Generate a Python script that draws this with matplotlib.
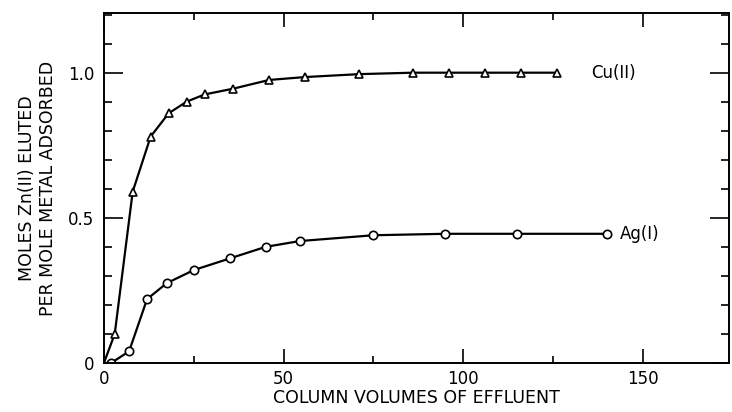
import matplotlib
matplotlib.use("Agg")
import matplotlib.pyplot as plt
from matplotlib.ticker import MultipleLocator

# Cu(II) curve (first point is the origin, drawn without a marker)
cu_x = [0, 3, 8, 13, 18, 23, 28, 36, 46, 56, 71, 86, 96, 106, 116, 126]
cu_y = [0, 0.10, 0.59, 0.78, 0.86, 0.90, 0.925, 0.945, 0.975, 0.985, 0.995,
        1.0, 1.0, 1.0, 1.0, 1.0]

# Ag(I) curve
ag_x = [0, 2, 7, 12, 17.5, 25, 35, 45, 54.5, 75, 95, 115, 140]
ag_y = [0, 0, 0.04, 0.22, 0.275, 0.32, 0.36, 0.40, 0.42, 0.44, 0.445,
        0.445, 0.445]

x_ticks = [0, 50, 100, 150]
y_ticks = [0, 0.5, 1.0]
y_tick_labels = ["0", "0.5", "1.0"]

plt.rcParams['font.family'] = ['DejaVu Sans']
plt.rcParams['font.size'] = 12

fig = plt.figure(figsize=(7.32, 4.12), dpi=100)
ax = fig.add_axes([0.142, 0.119, 0.854, 0.849])

ax.plot(cu_x, cu_y, color='black', linewidth=1.6, marker='^', markersize=6,
        markerfacecolor='white', markeredgecolor='black', markeredgewidth=1.2,
        markevery=list(range(1, len(cu_x))))
ax.plot(ag_x, ag_y, color='black', linewidth=1.6, marker='o', markersize=6,
        markerfacecolor='white', markeredgecolor='black', markeredgewidth=1.2,
        markevery=list(range(1, len(ag_x))))

ax.text(135.5, 1.0, "Cu(II)", ha='left', va='center', fontsize=12)
ax.text(143.5, 0.445, "Ag(I)", ha='left', va='center', fontsize=12)

ax.set_xlim(0, 174)
ax.set_ylim(0, 1.205)
ax.set_xticks(x_ticks)
ax.set_yticks(y_ticks)
ax.set_yticklabels(y_tick_labels)
ax.xaxis.set_minor_locator(MultipleLocator(25))
ax.yaxis.set_minor_locator(MultipleLocator(0.1))

ax.tick_params(which='both', direction='in', top=True, right=True,
               width=1.2, labelsize=12)
ax.tick_params(axis='y', which='major', length=14, pad=7)
ax.tick_params(axis='y', which='minor', length=6)
ax.tick_params(axis='x', which='major', length=10, pad=5)
ax.tick_params(axis='x', which='minor', length=5)

for sp in ax.spines.values():
    sp.set_linewidth(1.4)

ax.set_xlabel("COLUMN VOLUMES OF EFFLUENT", fontsize=12.5, labelpad=1)
ax.set_ylabel("MOLES Zn(II) ELUTED\nPER MOLE METAL ADSORBED", fontsize=12.5,
              labelpad=8, linespacing=1.2)

fig.savefig("out.png", dpi=100)
plt.close(fig)
